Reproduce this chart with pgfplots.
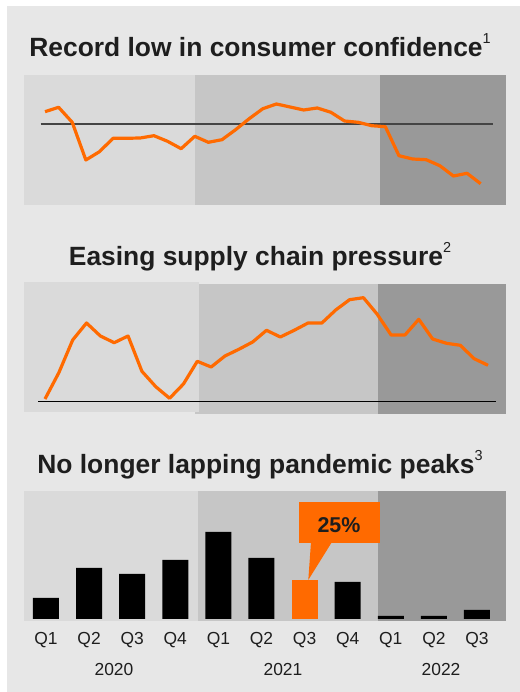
\documentclass[border=0pt]{standalone}
\usepackage{fontspec}
\setmainfont{Liberation Sans}
\usepackage{pgfplots}
\pgfplotsset{compat=1.18}
\definecolor{bg}{HTML}{E7E7E7}
\definecolor{cA}{HTML}{DADADA}
\definecolor{cB}{HTML}{C6C6C6}
\definecolor{cC}{HTML}{999999}
\definecolor{org}{HTML}{FF6A00}
\definecolor{txt}{HTML}{1E1E1E}
\definecolor{refl}{HTML}{444444}
\newcommand\supr[1]{\raisebox{12.7bp}{\fontsize{14.5}{15}\selectfont\mdseries #1}}
\pgfplotsset{panel/.style={anchor=south west, width=482bp, height=130bp, scale only axis,
  axis line style={draw=none}, major tick length=0pt, xtick=\empty, ytick=\empty, clip=false}}
\begin{document}
\begin{tikzpicture}
\fill[white] (0bp,0bp) rectangle (520bp,692bp);
\fill[bg] (7bp,0bp) rectangle (520bp,686bp);
\node[anchor=base, inner sep=0pt, text=txt, font=\fontsize{26.5}{30}\selectfont\bfseries] at (260bp,635.3bp) {Record low in consumer confidence\supr{1}};
\node[anchor=base, inner sep=0pt, text=txt, font=\fontsize{26.5}{30}\selectfont\bfseries] at (260bp,426.3bp) {Easing supply chain pressure\supr{2}};
\node[anchor=base, inner sep=0pt, text=txt, font=\fontsize{26.5}{30}\selectfont\bfseries] at (260bp,218.7bp) {No longer lapping pandemic peaks\supr{3}};

% Panel 1
\begin{axis}[panel, at={(24bp,487bp)}, xmin=-1.5425, xmax=33.862, ymin=0, ymax=130]
\fill[cA] (axis cs:-1.5425,0) rectangle (axis cs:11.018,130);
\fill[cB] (axis cs:11.018,0) rectangle (axis cs:24.607,130);
\fill[cC] (axis cs:24.607,0) rectangle (axis cs:33.862,130);
\addplot[refl, line width=1.7bp] coordinates {(-0.316,80.7) (32.91,80.7)};
\addplot[org, line width=3.2bp, line join=round] table {
x y
0 93.3
1 97.7
2 82.7
3 45
4 53.3
5 66.7
6 66.7
7 67
8 69.3
9 63.7
10 56.3
11 68.7
12 62.7
13 65.3
14 75.3
15 86.3
16 96.3
17 101
18 98
19 95
20 97
21 92.7
22 84
23 82.7
24 79.3
25 78.3
26 49.3
27 46
28 45.3
29 39.3
30 29
31 31.7
32 21.3
};
\end{axis}

% Panel 2
\begin{axis}[panel, at={(24bp,278.3bp)}, height=131.7bp, xmin=-1.517, xmax=33.30, ymin=0, ymax=131.7]
\fill[cB] (axis cs:10.835,0) rectangle (axis cs:24.054,129.7);
\fill[cC] (axis cs:24.054,0) rectangle (axis cs:33.30,129.7);
\fill[cA] (axis cs:-1.517,2) rectangle (axis cs:11.124,131.7);
\addplot[black, line width=1.3bp] coordinates {(-0.484,12) (32.556,12)};
\addplot[org, line width=3.2bp, line join=round] table {
x y
0 14.7
1 41
2 73.7
3 90.7
4 77.7
5 71
6 77.7
7 42.4
8 27
9 15.4
10 29.7
11 52.4
12 46.7
13 57.7
14 64.4
15 71.7
16 83.4
17 76.7
18 83.4
19 90.7
20 90.7
21 103.7
22 114
23 116
24 99.4
25 78.7
26 78.7
27 94.4
28 74.7
29 70.4
30 68.4
31 55
32 48.4
};
\end{axis}

% Panel 3
\begin{axis}[panel, at={(24bp,71bp)}, xmin=-0.510, xmax=10.673, ymin=-2, ymax=128,
  ybar, bar width=26bp, bar shift=0pt,
  xtick={0,1,2,3,4,5,6,7,8,9,10},
  xticklabels={Q1,Q2,Q3,Q4,Q1,Q2,Q3,Q4,Q1,Q2,Q3},
  xticklabel style={font=\fontsize{17.5}{18}\selectfont, text=txt, anchor=base, yshift=-23.3bp}]
\fill[cA] (axis cs:-0.510,-2) rectangle (axis cs:3.527,128);
\fill[cB] (axis cs:3.527,-2) rectangle (axis cs:7.703,128);
\fill[cC] (axis cs:7.703,-2) rectangle (axis cs:10.673,128);
\addplot[fill=black, draw=none] coordinates {(0,21) (1,51) (2,45) (3,59) (4,87) (5,61) (7,37) (8,3) (9,3) (10,9)};
\addplot[fill=org, draw=none] coordinates {(6,39)};
\fill[org] (axis cs:5.870,117) rectangle (axis cs:7.749,76.3);
\fill[org] (axis cs:6.148,76.6) -- (axis cs:6.629,76.6) -- (axis cs:6.086,39) -- cycle;
\node[anchor=base, inner sep=0pt, text=txt, font=\fontsize{21.5}{22}\selectfont\bfseries] at (axis cs:6.798,86.3) {25\%};
\node[anchor=base, inner sep=0pt, text=txt, font=\fontsize{17.5}{18}\selectfont] at (axis cs:1.578,-56.3) {2020};
\node[anchor=base, inner sep=0pt, text=txt, font=\fontsize{17.5}{18}\selectfont] at (axis cs:5.499,-56.3) {2021};
\node[anchor=base, inner sep=0pt, text=txt, font=\fontsize{17.5}{18}\selectfont] at (axis cs:9.165,-56.3) {2022};
\end{axis}
\end{tikzpicture}
\end{document}
